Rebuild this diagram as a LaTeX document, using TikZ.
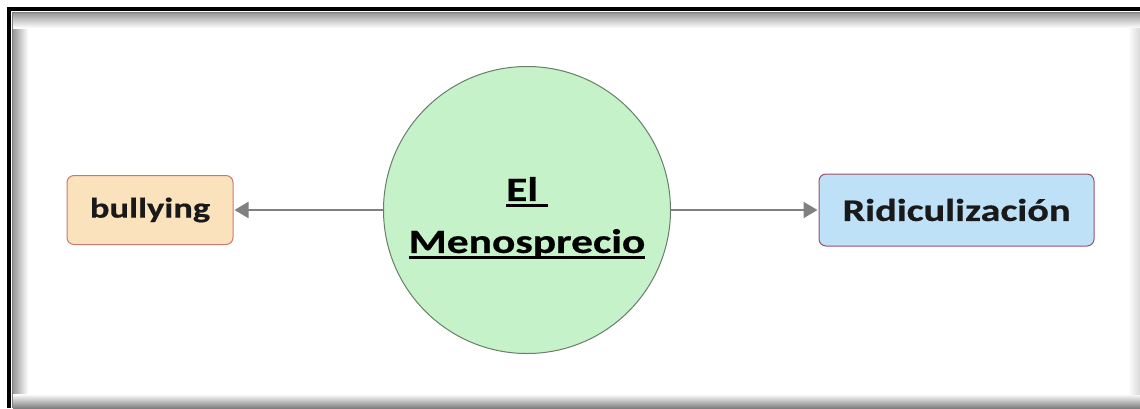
\documentclass[tikz,border=0pt]{standalone}
\usepackage{fontspec}
\usetikzlibrary{arrows.meta}
\newfontfamily\mapfont{Carlito}[FakeStretch=1.28,FakeBold=0.6]
\newcommand\ulword[1]{\setbox0\hbox{#1}\rlap{\rule[-6pt]{\wd0}{2.5pt}}\box0}
\definecolor{orangefill}{RGB}{250,227,188}
\definecolor{orangeline}{RGB}{200,122,112}
\definecolor{bluefill}{RGB}{190,225,248}
\definecolor{blueline}{RGB}{150,80,110}
\definecolor{greenfill}{RGB}{197,242,201}
\definecolor{greenline}{RGB}{105,125,105}
\definecolor{arrowgray}{RGB}{128,128,128}

\begin{document}
\begin{tikzpicture}[x=1pt,y=-1pt,
  main node/.style={circle,fill=greenfill,draw=greenline,line width=1pt,minimum size=287pt,inner sep=0pt},
  idea node/.style={rectangle,rounded corners=7pt,line width=1pt,inner sep=0pt,
    font=\mapfont\bfseries,text=black!90},
  link/.style={draw=arrowgray,line width=2pt,-{Triangle[length=14pt,width=16pt]},shorten >=1pt}]
  % frame
  \useasboundingbox (0,0) rectangle (1140,408);
  \shade[left color=black!40,right color=white] (13,13) rectangle (28,408);
  \shade[top color=black!40,bottom color=white] (13,13) rectangle (1140,28);
  \shade[top color=white,bottom color=black!50] (13,394) rectangle (1140,408);
  \shade[left color=white,right color=black!15] (1128,28) rectangle (1140,394);
  \draw[line width=4pt] (9,408) -- (9,9) -- (1140,9);
  \draw[gray,line width=1pt] (12.5,408) -- (12.5,12.5) -- (1140,12.5);
  % map
  \node[main node] (c) at (527,210) {};
  \node[font=\mapfont\bfseries\fontsize{34}{52}\selectfont,align=center] (ctext)
    at (c) [yshift=-8pt] {\ulword{El\ }\\\ulword{Menosprecio}};
  \node[idea node,fill=orangefill,draw=orangeline,minimum width=166pt,minimum height=69pt,
    font=\mapfont\bfseries\fontsize{28.5}{34}\selectfont,node distance=377pt] (b) [left of=c] {bullying};
  \node[idea node,fill=bluefill,draw=blueline,minimum width=275pt,minimum height=72pt,
    font=\mapfont\bfseries\fontsize{31.5}{38}\selectfont,node distance=429.5pt] (r) [right of=c] {Ridiculización};
  \path (c) edge[link] (b)
            edge[link] (r);
\end{tikzpicture}
\end{document}
